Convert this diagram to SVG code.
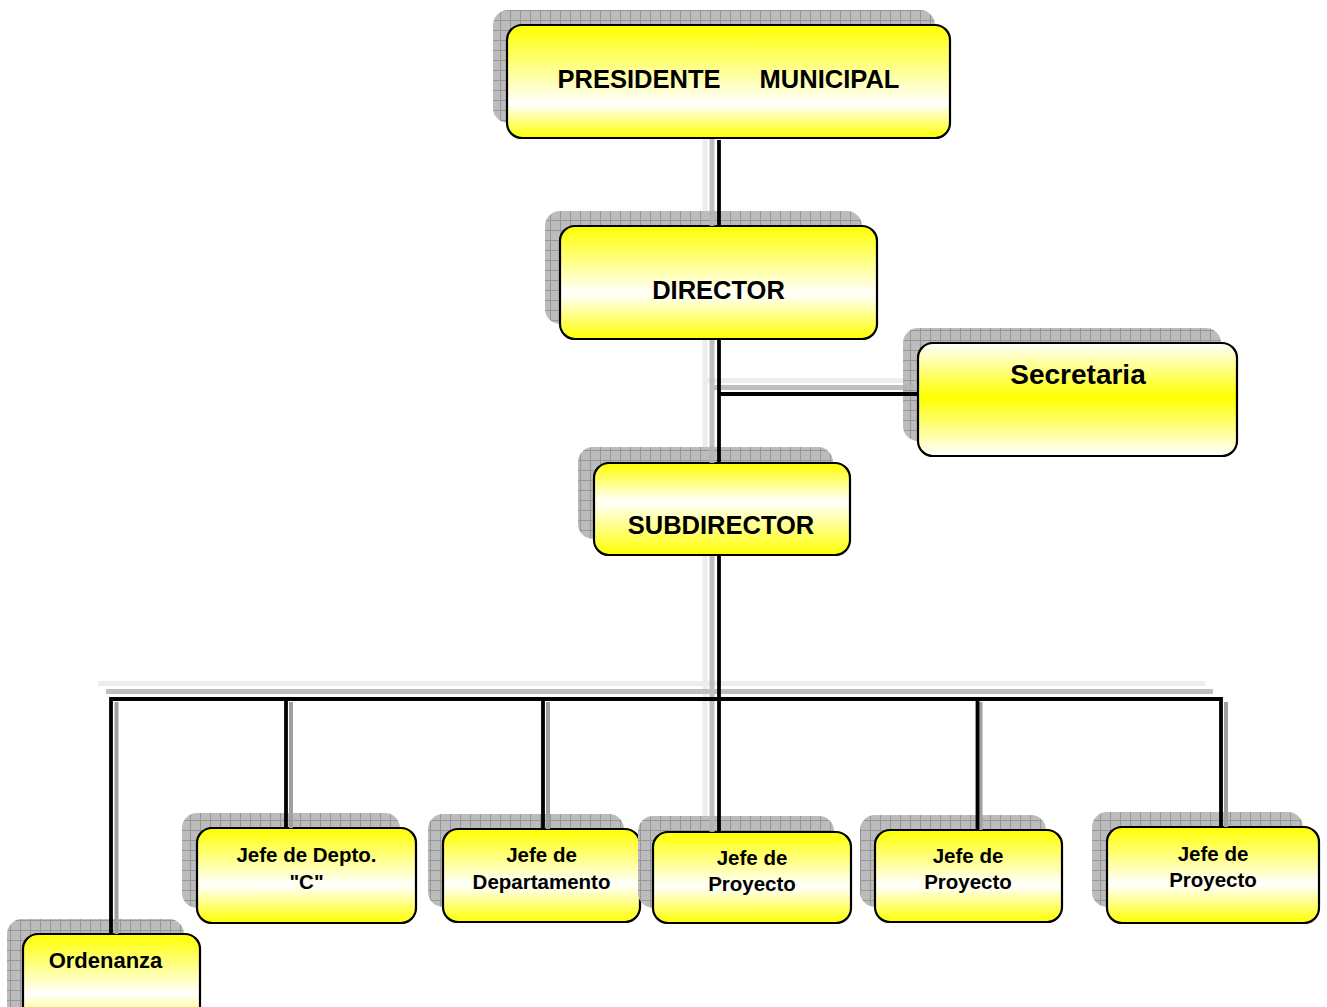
<svg xmlns="http://www.w3.org/2000/svg" width="1327" height="1007" viewBox="0 0 1327 1007">
<defs>
  <pattern id="grid" width="10" height="10" patternUnits="userSpaceOnUse">
    <rect width="10" height="10" fill="#bcbcbc"/>
    <path d="M0 0.5H10M0.5 0V10" stroke="#969696" stroke-width="1" fill="none"/>
  </pattern>
  <linearGradient id="gStd" x1="0" y1="0" x2="0" y2="1">
    <stop offset="0" stop-color="#ffff00"/>
    <stop offset="0.6" stop-color="#ffffff"/>
    <stop offset="1" stop-color="#ffff00"/>
  </linearGradient>
  <linearGradient id="gPres" x1="0" y1="0" x2="0" y2="1">
    <stop offset="0" stop-color="#ffff00"/>
    <stop offset="0.7" stop-color="#ffffff"/>
    <stop offset="1" stop-color="#ffff00"/>
  </linearGradient>
  <linearGradient id="gSub" x1="0" y1="0" x2="0" y2="1">
    <stop offset="0" stop-color="#ffff00"/>
    <stop offset="0.42" stop-color="#ffffff"/>
    <stop offset="1" stop-color="#ffff00"/>
  </linearGradient>
  <linearGradient id="gSec" x1="0" y1="0" x2="0" y2="1">
    <stop offset="0" stop-color="#ffffff"/>
    <stop offset="0.48" stop-color="#ffff00"/>
    <stop offset="1" stop-color="#ffffff"/>
  </linearGradient>
</defs>
<style>
  .shadow { fill: url(#grid); }
  .box { stroke: #000; stroke-width: 2.2; }
  .std { fill: url(#gStd); }
  .t { font-family: "Liberation Sans", Arial, sans-serif; font-weight: bold; fill: #000; text-anchor: middle; }
  .big { font-size: 25.5px; }
  .small { font-size: 20.5px; }
  .line { stroke: #000; stroke-width: 3.8; fill: none; }
  .lt { stroke: #ededed; stroke-width: 5; fill: none; }
  .dk { stroke: #b4b4b4; stroke-width: 5; fill: none; opacity: 0.85; }
  .ds { stroke: #a0a0a0; stroke-width: 4; fill: none; }
</style>
<rect width="1327" height="1007" fill="#ffffff"/>

<g id="node-presidente">
  <rect class="shadow" x="493" y="10" width="442" height="113" rx="15"/>
  <rect class="box" fill="url(#gPres)" x="507" y="25" width="443" height="113" rx="15"/>
  <text class="t big" y="88"><tspan x="639">PRESIDENTE</tspan><tspan x="829.5">MUNICIPAL</tspan></text>
</g>

<g id="node-director">
  <rect class="shadow" x="545" y="211" width="317" height="113" rx="15"/>
  <rect class="box std" x="560" y="226" width="317" height="113" rx="15"/>
  <text class="t big" x="718.5" y="299">DIRECTOR</text>
</g>

<g id="node-secretaria">
  <rect class="shadow" x="903" y="328" width="318" height="113" rx="15"/>
  <rect class="box" fill="url(#gSec)" x="918" y="343" width="319" height="113" rx="15"/>
  <text class="t" style="font-size:28px" x="1078" y="384">Secretaria</text>
</g>

<g id="node-subdirector">
  <rect class="shadow" x="578" y="447" width="255" height="92" rx="15"/>
  <rect class="box" fill="url(#gSub)" x="594" y="463" width="256" height="92" rx="15"/>
  <text class="t big" x="721" y="534">SUBDIRECTOR</text>
</g>

<g id="node-ordenanza">
  <rect class="shadow" x="7" y="919" width="177" height="100" rx="15"/>
  <rect class="box std" x="23" y="934" width="177" height="100" rx="15"/>
  <text class="t" style="font-size:22px" x="105.5" y="968">Ordenanza</text>
</g>

<g id="node-jefe-depto-c">
  <rect class="shadow" x="182" y="813" width="218" height="95" rx="15"/>
  <rect class="box std" x="197" y="828" width="219" height="95" rx="15"/>
  <text class="t small" x="306.5" y="862">Jefe de Depto.</text>
  <text class="t small" x="306.5" y="888.5">"C"</text>
</g>

<g id="node-jefe-departamento">
  <rect class="shadow" x="428" y="814" width="196" height="93" rx="15"/>
  <rect class="box std" x="443" y="829" width="197" height="93" rx="15"/>
  <text class="t small" x="541.5" y="862">Jefe de</text>
  <text class="t small" x="541.5" y="889">Departamento</text>
</g>

<g id="node-jefe-proyecto-1">
  <rect class="shadow" x="638" y="816" width="196" height="92" rx="15"/>
  <rect class="box std" x="653" y="832" width="198" height="91" rx="15"/>
  <text class="t small" x="752" y="864.5">Jefe de</text>
  <text class="t small" x="752" y="891">Proyecto</text>
</g>

<g id="node-jefe-proyecto-2">
  <rect class="shadow" x="860" y="815" width="186" height="92" rx="15"/>
  <rect class="box std" x="875" y="830" width="187" height="92" rx="15"/>
  <text class="t small" x="968" y="862.5">Jefe de</text>
  <text class="t small" x="968" y="888.5">Proyecto</text>
</g>

<g id="node-jefe-proyecto-3">
  <rect class="shadow" x="1092" y="812" width="211" height="95" rx="15"/>
  <rect class="box std" x="1107" y="827" width="212" height="96" rx="15"/>
  <text class="t small" x="1213" y="860.5">Jefe de</text>
  <text class="t small" x="1213" y="887">Proyecto</text>
</g>

<g id="connectors">
  <path class="lt" d="M705 139V211M705 340V447M705 556V816M703 380.5H903M98 683.5H1205"/>
  <path class="dk" d="M712 139V226M712 340V463M712 556V832M712 387.5H913M106 691.5H1213"/>
  <path class="ds" d="M116.5 702V934M291 702V828M548 702V829M980.5 702V830M1226 702V827"/>
  <path class="line" d="M719 140V226M719 339V463M719 555V832M719 394H918"/>
  <path class="line" d="M111 934V699H1221V827"/>
  <path class="line" d="M286 699V828M543 699V829M977.5 699V830"/>
</g>
</svg>
